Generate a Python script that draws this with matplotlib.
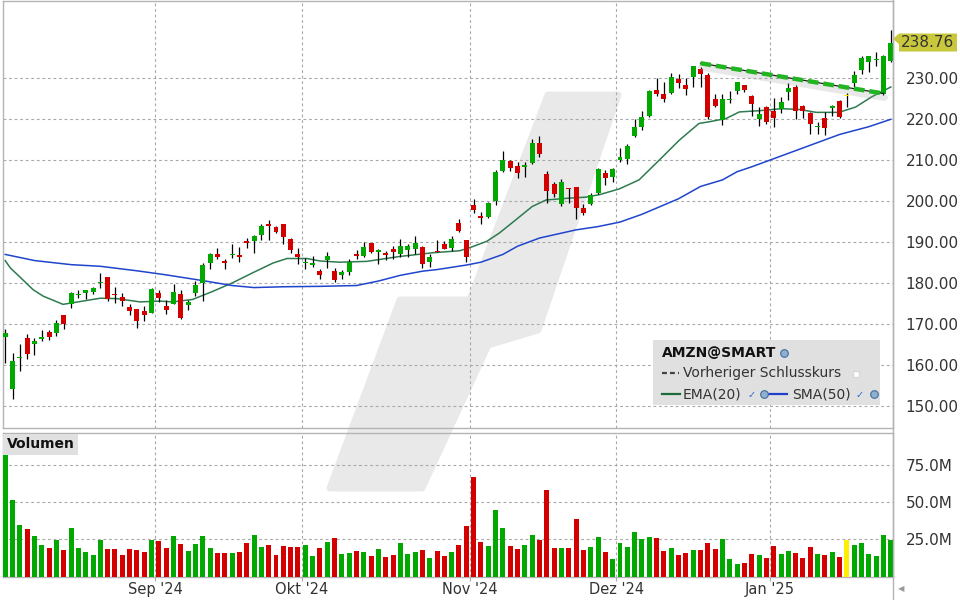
import numpy as np
import matplotlib.pyplot as plt
from matplotlib.patches import Polygon, Rectangle
from matplotlib.lines import Line2D
from matplotlib.transforms import offset_copy, blended_transform_factory

# daily candles AMZN, 2 Aug 2024 .. 28 Jan 2025 (one entry per trading day)
opens = [166.75, 154.21, 161.71, 166.55, 165.17, 166.40, 168.14, 167.81, 172.11, 174.86, 177.04,
         177.64, 177.92, 179.92, 181.38, 177.34, 176.70, 174.15, 173.69, 173.22, 172.78,
         177.55, 174.48, 175.00, 177.24, 174.53, 177.49, 180.10, 184.80, 187.00, 185.29,
         186.85, 186.45, 190.04, 190.23, 191.64, 194.27, 193.75, 194.31, 190.68, 187.14,
         184.90, 184.44, 183.05, 185.75, 182.95, 181.92, 182.82, 187.13, 186.63, 189.78, 187.63,
         187.05, 188.22, 187.15, 188.05, 188.35, 188.85, 185.25, 187.85, 189.57, 188.58, 194.70, 190.51,
         199.00, 196.45, 196.04, 200.01, 207.44, 209.72, 208.50, 208.37, 209.40, 214.16,
         206.76, 204.15, 199.33, 202.98, 203.49, 198.25, 199.28, 201.90, 206.98, 205.83,
         209.96, 210.31, 215.96, 218.03, 220.75, 227.21, 226.09, 226.41, 229.83, 228.40, 230.23,
         232.39, 230.77, 224.91, 219.84, 224.60, 226.94, 228.50, 225.60, 220.06, 222.97,
         222.03, 222.51, 226.78, 227.90, 223.19, 221.46, 218.06, 220.44, 222.83, 224.42,
         225.84, 228.90, 232.02, 234.10, 234.50, 226.21, 234.29]
highs = [168.77, 162.96, 165.08, 167.58, 166.69, 168.55, 168.55, 171.04, 172.28, 177.91, 178.34,
         178.30, 179.01, 182.39, 181.47, 178.97, 177.47, 174.89, 173.69, 174.29, 178.90,
         178.26, 175.98, 179.88, 178.38, 175.85, 180.50, 184.99, 187.41, 188.50, 185.81,
         189.45, 188.80, 190.99, 191.84, 194.45, 195.37, 193.95, 194.53, 190.90, 188.49,
         186.19, 186.60, 183.44, 187.60, 183.60, 183.09, 185.85, 188.13, 189.93, 189.83, 188.41,
         187.78, 188.94, 190.74, 189.46, 191.52, 189.16, 187.11, 190.45, 190.21, 191.46, 195.61, 190.60,
         200.50, 197.33, 199.82, 207.55, 212.25, 209.96, 209.65, 209.54, 215.09, 215.90,
         207.34, 204.67, 205.30, 203.13, 203.49, 199.26, 201.95, 208.00, 207.64, 208.20,
         212.99, 213.90, 220.00, 222.15, 227.15, 230.08, 229.06, 231.20, 231.09, 230.20, 233.00,
         232.73, 231.40, 226.09, 226.21, 226.88, 229.14, 228.50, 226.03, 223.00, 223.23,
         225.15, 225.36, 228.84, 228.38, 223.52, 221.71, 219.40, 221.82, 223.57, 224.65,
         226.51, 231.78, 235.44, 235.52, 236.40, 235.61, 241.77]
lows = [160.55, 151.61, 158.54, 161.43, 162.55, 165.85, 166.11, 167.10, 168.86, 173.99, 176.26,
        176.16, 177.43, 178.89, 175.68, 175.24, 174.30, 172.25, 168.92, 170.81, 172.60,
        175.26, 172.54, 174.99, 171.16, 173.51, 176.79, 175.73, 183.54, 185.91, 183.36,
        186.14, 185.06, 188.47, 187.41, 190.57, 190.62, 192.16, 189.54, 187.34, 184.65,
        183.45, 184.04, 180.88, 183.60, 180.25, 180.92, 182.05, 185.83, 186.30, 187.36, 184.58,
        185.61, 186.00, 186.28, 186.40, 186.98, 183.69, 183.86, 187.53, 188.21, 187.82, 192.42, 185.23,
        197.02, 194.31, 195.99, 199.14, 207.19, 207.44, 205.59, 206.01, 209.14, 210.88,
        199.61, 200.95, 198.78, 199.45, 195.75, 196.75, 199.00, 201.79, 203.94, 204.59,
        209.51, 209.13, 215.75, 217.30, 220.60, 225.67, 224.20, 226.26, 227.63, 225.86, 228.01,
        227.85, 220.11, 222.92, 218.73, 223.90, 226.13, 226.67, 220.90, 218.43, 218.94,
        218.19, 221.62, 224.84, 219.99, 220.20, 216.50, 216.47, 216.20, 220.75, 220.31,
        223.08, 227.93, 231.19, 231.51, 232.93, 225.86, 233.98]
closes = [167.90, 161.02, 161.93, 162.77, 165.80, 166.94, 166.80, 170.23, 170.10, 177.59, 177.06,
          178.22, 178.88, 180.11, 176.13, 177.04, 175.50, 173.12, 170.80, 172.12, 178.50,
          176.25, 173.33, 177.89, 171.39, 175.40, 179.55, 184.52, 187.00, 186.49, 184.89,
          186.88, 186.43, 189.87, 191.60, 193.88, 193.96, 192.53, 191.16, 187.97, 186.33,
          185.13, 184.76, 181.96, 186.51, 180.80, 182.72, 185.17, 186.65, 188.82, 187.54, 187.69,
          186.89, 187.53, 188.99, 189.07, 189.70, 184.71, 186.38, 187.50, 188.39, 190.83, 192.73, 186.40,
          197.93, 195.78, 199.50, 207.09, 210.05, 208.18, 206.84, 208.91, 214.10, 211.48,
          202.61, 201.70, 204.61, 202.88, 198.38, 197.12, 201.45, 207.86, 205.74, 207.89,
          210.71, 213.44, 218.16, 220.55, 227.03, 226.09, 225.04, 230.26, 228.97, 227.46, 232.93,
          231.15, 220.52, 223.29, 224.92, 224.90, 229.05, 227.05, 223.75, 221.30, 219.39,
          220.22, 224.19, 227.61, 222.11, 222.13, 218.94, 218.46, 217.76, 223.35, 220.66,
          225.84, 230.71, 235.01, 235.42, 234.85, 235.42, 238.76]
# volume in millions
volumes = [91.9, 51.4, 34.5, 31.8, 27.0, 20.9, 19.1, 24.3, 17.6, 32.4, 19.1,
           16.2, 14.2, 24.3, 18.2, 18.2, 14.2, 18.2, 17.6, 16.2, 24.3,
           23.6, 19.1, 27.0, 21.6, 16.9, 21.6, 27.0, 19.1, 15.5, 15.5,
           15.5, 16.2, 22.3, 27.7, 19.6, 20.9, 14.2, 20.3, 19.6, 19.6,
           20.9, 13.5, 18.9, 23.0, 25.7, 14.9, 15.5, 16.9, 16.2, 13.5, 18.2,
           12.8, 14.2, 22.3, 14.9, 16.2, 17.6, 12.2, 16.9, 13.5, 16.2, 20.9, 33.8,
           66.7, 23.0, 20.3, 44.6, 32.4, 20.3, 18.2, 20.9, 27.7, 24.3,
           58.1, 18.9, 18.9, 18.9, 38.5, 17.6, 19.6, 26.4, 16.2, 11.5,
           22.3, 19.6, 29.7, 25.0, 26.4, 25.7, 16.9, 18.9, 14.2, 15.5, 17.6,
           17.6, 22.3, 18.2, 25.0, 11.5, 8.1, 8.8, 14.9, 14.2, 12.2,
           20.3, 14.9, 16.9, 15.5, 12.2, 19.6, 14.9, 14.2, 16.2, 12.8,
           24.8, 20.9, 22.3, 14.9, 13.5, 27.7, 24.3]

# indicator lines (bar index, value)
ema_idx = [0, 0.7, 2, 3.8, 5.2, 7.9, 10.6, 13, 15.3, 18.4, 21.1, 22.9, 25.6, 28.4, 31.1, 33.8,
           36.6, 38.5, 41.2, 43, 45.7, 49.4, 53.9, 58.4, 62.1, 63.4, 65.8, 67.5, 69.8, 72,
           73.9, 76.7, 79.4, 81.2, 83.9, 86.6, 89.4, 92.1, 94.8, 96.2, 98.5, 100.3, 103,
           106.1, 108.5, 110.8, 113.9, 116.2, 118.4, 121]
ema_val = [185.5, 183.7, 181.5, 178.4, 176.8, 174.8, 175.6, 176.3, 176.2, 175.4, 175.6, 175.4,
           176.0, 178.0, 180.1, 182.5, 184.9, 186.0, 186.0, 185.4, 185.1, 185.3, 186.5, 187.4,
           187.9, 188.6, 190.2, 192.2, 195.5, 198.7, 200.3, 200.7, 201.0, 201.6, 203.0, 205.2,
           210.1, 214.9, 219.0, 219.4, 220.2, 221.8, 222.1, 222.6, 222.4, 221.7, 221.7, 223.0,
           225.5, 227.9]
sma_idx = [0, 4, 9, 13, 18, 22, 27, 31, 34, 38, 43, 48, 51, 54, 57, 59, 63, 65, 68, 70, 73,
           76, 78, 81, 84, 87, 92, 95, 98, 100, 102, 114, 118, 121]
sma_val = [187.0, 185.5, 184.5, 184.1, 183.0, 182.0, 180.6, 179.4, 178.9, 179.1, 179.2, 179.4,
           180.5, 181.9, 182.9, 183.3, 184.4, 185.1, 187.0, 189.0, 191.0, 192.2, 193.0, 193.8,
           194.9, 196.8, 200.6, 203.6, 205.2, 207.2, 208.4, 216.3, 218.2, 220.0]

# drawn trendline (bar index, price)
trend_idx = [95, 120]
trend_val = [233.7, 226.3]

# first bar index of each month
month_labels = ["Sep '24", "Okt '24", "Nov '24", "Dez '24", "Jan '25"]
month_start = [21, 41, 64, 84, 105]

price_ticks = [150, 160, 170, 180, 190, 200, 210, 220, 230]
vol_ticks = [25, 50, 75]

GREEN = "#00a800"
RED = "#d40000"
YELLOW = "#ffee00"
GRID = "#a8a8a8"
FRAME = "#b4b4b4"
TXT = "#333333"

W, H = 960, 600


def fx(px):
    return px / W


def fy(py):
    return 1 - py / H


o = np.array(opens)
h = np.array(highs)
l = np.array(lows)
c = np.array(closes)
v = np.array(volumes)
x = np.arange(len(c))
colors = np.where(c > o, GREEN, np.where(c < o, RED, YELLOW))
grid_x = np.array(month_start) - 0.5

fig = plt.figure(figsize=(9.6, 6), dpi=100)
fig.patch.set_facecolor("white")

# watermark logo behind both panels (figure pixels)
logo = [(548, 95), (618, 95), (538, 330), (488, 345), (422, 488), (330, 488),
        (400, 300), (470, 300)]
fig.add_artist(Polygon([(fx(a), fy(b)) for a, b in logo], closed=True,
                       transform=fig.transFigure, facecolor="#e9e9e9",
                       edgecolor="#e9e9e9", lw=5, joinstyle="round", zorder=-5))

ax = fig.add_axes([fx(3), fy(428), fx(890), 427 / H])
axv = fig.add_axes([fx(3), fy(576.5), fx(890), 143.5 / H])

for a in (ax, axv):
    a.set_facecolor("none")
    for s in a.spines.values():
        s.set_color(FRAME)
        s.set_linewidth(1)
    a.set_xlim(-0.3, 121.3)
    a.set_xticks(grid_x)
    a.grid(True, ls=(0, (2.5, 2.5)), color=GRID, lw=0.8)
    a.set_axisbelow(True)
    a.yaxis.tick_right()

# price panel
ax.vlines(x, l, h, color="black", lw=0.9, zorder=3)
body = np.maximum(np.abs(c - o), 0.35)
ax.bar(x, body, bottom=np.minimum(o, c) - np.where(c == o, 0.17, 0), width=0.68,
       color=colors, zorder=4, linewidth=0)
ax.plot(ema_idx, ema_val, color="#2e7b50", lw=1.1, zorder=2)
ax.plot(sma_idx, sma_val, color="#1f45cc", lw=1.1, zorder=2)

shadow = offset_copy(ax.transData, fig=fig, x=1, y=-4, units="dots")
ax.plot(trend_idx, trend_val, color="#909090", lw=5, alpha=0.2, transform=shadow,
        zorder=5, solid_capstyle="round")
ax.plot(trend_idx, trend_val, color="#222222", lw=0.9, zorder=5)
ax.plot(trend_idx, trend_val, color="#22b522", lw=3.2, dashes=(2.4, 1.1), zorder=6)

ax.set_ylim(144.6, 248.9)
ax.set_yticks(price_ticks)
ax.set_yticklabels([f"{t:.2f}" for t in price_ticks])
ax.tick_params(axis="y", length=0, pad=9, labelsize=11, labelcolor=TXT)
ax.tick_params(axis="x", length=0, labelbottom=False)

# last price tag
last = c[-1]
tr = blended_transform_factory(fig.transFigure, ax.transData)
tag = [(fx(893), last + 0.9), (fx(899), last + 2.2), (fx(957), last + 2.2),
       (fx(957), last - 2.2), (fx(899), last - 2.2), (fx(899), last - 0.4)]
ax.add_patch(Polygon(tag, closed=True, transform=tr, facecolor="#c9c83c",
                     edgecolor="none", clip_on=False, zorder=7))
ax.text(fx(927), last, f"{last:.2f}", transform=tr, ha="center", va="center",
        fontsize=11, color=TXT, zorder=8, clip_on=False)

# volume panel
axv.bar(x, v, width=0.68, color=colors, linewidth=0, zorder=3)
axv.set_ylim(0, 96.5)
axv.set_yticks(vol_ticks)
axv.set_yticklabels([f"{t:.1f}M" for t in vol_ticks])
axv.tick_params(axis="y", length=0, pad=9, labelsize=11, labelcolor=TXT)
axv.set_xticklabels(month_labels)
axv.tick_params(axis="x", length=3, width=0.8, color=GRID, pad=1, labelsize=10.5, labelcolor=TXT)
axv.text(0.004, 0.97, "Volumen", transform=axv.transAxes, ha="left", va="top",
         fontsize=10, fontweight="bold", color="#111111", zorder=6,
         bbox=dict(boxstyle="square,pad=0.25", facecolor="#e0e0e0", edgecolor="none"))

# right frame continues down to the bottom edge
fig.add_artist(Line2D([fx(893), fx(893)], [0, 1], transform=fig.transFigure, color=FRAME, lw=1))
fig.text(fx(901), fy(589), "\u25c0", fontsize=6, color="#999999", ha="center", va="center")

# legend box
fig.add_artist(Rectangle((fx(653), fy(405)), fx(227), 65 / H, transform=fig.transFigure,
                         facecolor="#e0e0e0", edgecolor="none", zorder=10))


def icon_globe(px, py):
    fig.add_artist(Line2D([fx(px)], [fy(py)], marker="o", ms=5.5, mfc="#8fb0cf", mec="#3f6d9c",
                          mew=0.8, transform=fig.transFigure, zorder=12))


def icon_check(px, py):
    fig.text(fx(px), fy(py), "\u2713", fontsize=7, color="#2a66cc", fontweight="bold",
             ha="center", va="center", zorder=12)


fig.text(fx(662), fy(353), "AMZN@SMART", fontsize=10, fontweight="bold", color="#111111",
         va="center", zorder=11)
icon_globe(784, 353)
fig.add_artist(Line2D([fx(662), fx(679)], [fy(373), fy(373)], transform=fig.transFigure,
                      color="#444444", lw=1.6, dashes=(2.2, 1.4), zorder=11))
fig.text(fx(683), fy(373), "Vorheriger Schlusskurs", fontsize=10, color=TXT, va="center", zorder=11)
fig.add_artist(Line2D([fx(856)], [fy(374)], marker="s", ms=4.5, mfc="white", mec="#d8d8d8",
                      transform=fig.transFigure, zorder=12))
fig.add_artist(Line2D([fx(662), fx(680)], [fy(394), fy(394)], transform=fig.transFigure,
                      color="#1d6b3c", lw=1.6, zorder=11))
fig.text(fx(683), fy(394), "EMA(20)", fontsize=10, color=TXT, va="center", zorder=11)
icon_check(752, 395)
icon_globe(764, 394)
fig.add_artist(Line2D([fx(768), fx(787)], [fy(394), fy(394)], transform=fig.transFigure,
                      color="#1f3fcc", lw=1.6, zorder=11))
fig.text(fx(792), fy(394), "SMA(50)", fontsize=10, color=TXT, va="center", zorder=11)
icon_check(860, 395)
icon_globe(874, 394)

fig.savefig("out.png", dpi=100)
